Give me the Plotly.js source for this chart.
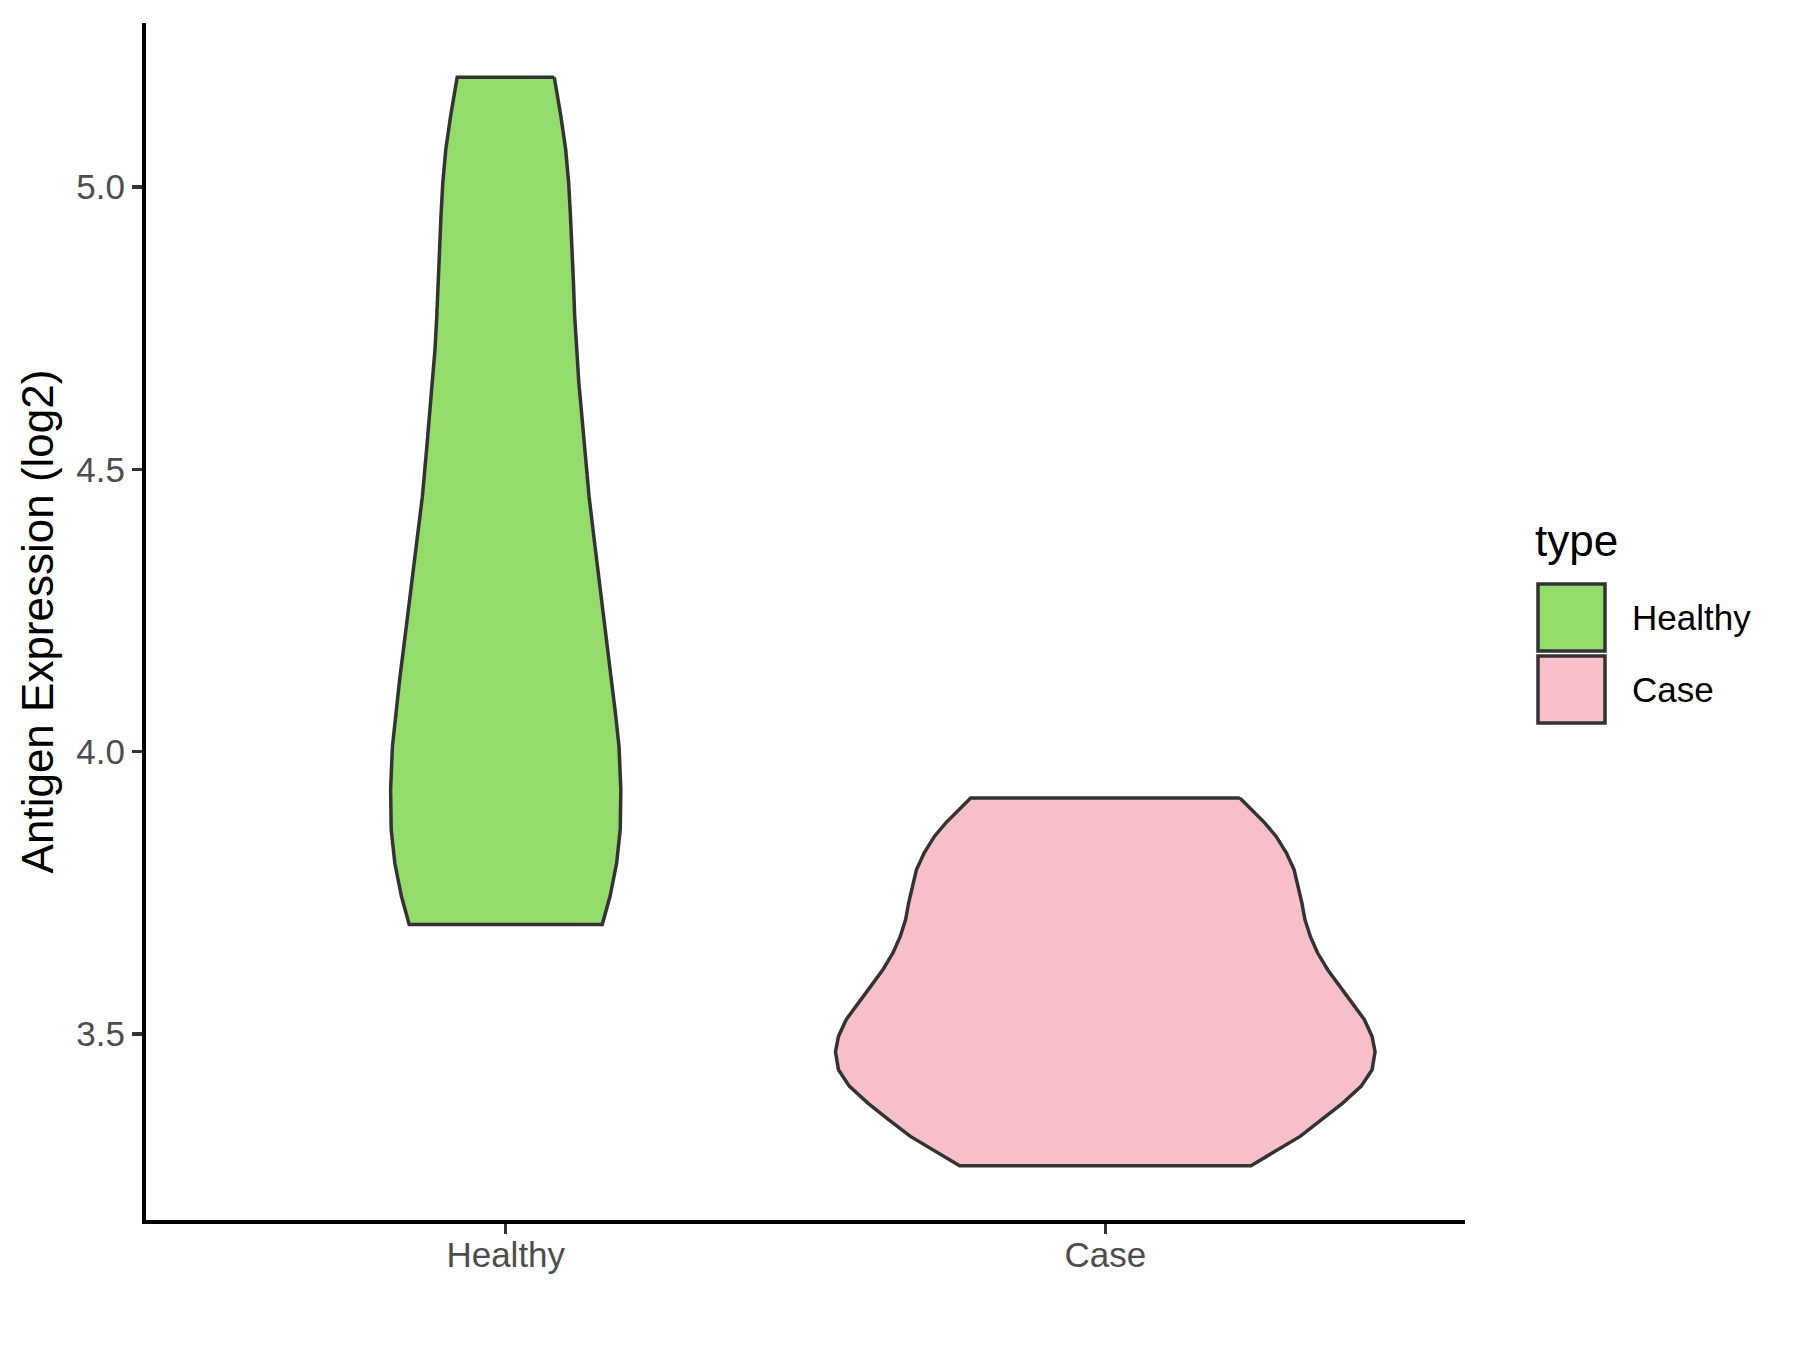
<!DOCTYPE html>
<html>
<head>
<meta charset="utf-8">
<script src="https://cdn.plot.ly/plotly-3.0.1.min.js"></script>
<style>html,body{margin:0;padding:0;background:#fff;}#chart{width:1800px;height:1350px;}</style>
</head>
<body>
<div id="chart"></div>
<script>
// Categories and their fill colours
const categories = ['Healthy', 'Case'];
const fillColors = ['#93DB6A', '#F7BFCA'];

// Violin profiles: y level (log2 expression) and half-width (in category units)
const healthyY = [5.194, 5.154, 5.125, 5.066, 5.007, 4.948, 4.889, 4.830, 4.771, 4.712, 4.653, 4.594, 4.535, 4.452, 4.363, 4.246, 4.127, 4.068, 4.009, 3.933, 3.862, 3.803, 3.744, 3.694];
const healthyHalfWidth = [0.081, 0.088, 0.092, 0.100, 0.105, 0.108, 0.111, 0.113, 0.115, 0.118, 0.122, 0.127, 0.132, 0.139, 0.149, 0.163, 0.177, 0.183, 0.189, 0.192, 0.191, 0.185, 0.174, 0.161];

const caseY = [3.918, 3.897, 3.874, 3.850, 3.821, 3.791, 3.762, 3.732, 3.703, 3.673, 3.644, 3.614, 3.585, 3.555, 3.526, 3.496, 3.469, 3.437, 3.408, 3.378, 3.349, 3.319, 3.290, 3.267];
const caseHalfWidth = [0.2245, 0.245, 0.266, 0.285, 0.302, 0.315, 0.322, 0.328, 0.333, 0.342, 0.354, 0.371, 0.391, 0.411, 0.432, 0.445, 0.450, 0.445, 0.427, 0.396, 0.362, 0.325, 0.279, 0.243];

const yTicks = [3.5, 4.0, 4.5, 5.0];
const yTickText = ['3.5', '4.0', '4.5', '5.0'];

const profiles = [
  {y: healthyY, w: healthyHalfWidth},
  {y: caseY, w: caseHalfWidth}
];

const FONT = 'Liberation Sans, Arial, sans-serif';
const OUTLINE = '#333333';

const traces = profiles.map((p, i) => {
  const pos = i + 1;
  const xs = [], ys = [];
  for (let k = 0; k < p.y.length; k++) { xs.push(pos + p.w[k]); ys.push(p.y[k]); }
  for (let k = p.y.length - 1; k >= 0; k--) { xs.push(pos - p.w[k]); ys.push(p.y[k]); }
  xs.push(xs[0]); ys.push(ys[0]);
  return {
    type: 'scatter', mode: 'lines', x: xs, y: ys,
    fill: 'toself', fillcolor: fillColors[i],
    line: {color: OUTLINE, width: 3.5, shape: 'linear'},
    name: categories[i], showlegend: false, hoverinfo: 'name'
  };
});

// Manual legend (ggplot style big keys)
const plotL = 146, plotR = 1465, plotT = 23, plotB = 1220;
const px = v => (v - plotL) / (plotR - plotL);
const py = v => (plotB - v) / (plotB - plotT);
const keyTops = [584, 656];
const keySize = 67;
const shapes = [], annotations = [];
categories.forEach((c, i) => {
  shapes.push({
    type: 'rect', xref: 'paper', yref: 'paper',
    x0: px(1538), x1: px(1538 + keySize),
    y0: py(keyTops[i] + keySize), y1: py(keyTops[i]),
    fillcolor: fillColors[i], line: {color: OUTLINE, width: 3.5}
  });
  annotations.push({
    xref: 'paper', yref: 'paper', x: px(1630), y: py(keyTops[i] + keySize / 2),
    xanchor: 'left', yanchor: 'middle', showarrow: false, text: c,
    font: {family: FONT, size: 35, color: '#000000'}
  });
});
annotations.push({
  xref: 'paper', yref: 'paper', x: px(1533), y: py(540),
  xanchor: 'left', yanchor: 'middle', showarrow: false, text: 'type',
  font: {family: FONT, size: 44, color: '#000000'}
});

const layout = {
  width: 1800, height: 1350,
  margin: {l: plotL, r: 1800 - plotR, t: plotT, b: 1350 - plotB, pad: 0},
  paper_bgcolor: '#ffffff', plot_bgcolor: '#ffffff',
  showlegend: false,
  font: {family: FONT},
  xaxis: {
    range: [0.4, 2.6], tickmode: 'array', tickvals: [1, 2], ticktext: categories,
    showgrid: false, zeroline: false, showline: true, linecolor: '#000000', linewidth: 4,
    ticks: 'outside', ticklen: 10, tickwidth: 3.5, tickcolor: '#333333',
    ticklabelstandoff: -9,
    tickfont: {family: FONT, size: 35, color: '#4D4D4D'}
  },
  yaxis: {
    range: [3.171, 5.29], tickmode: 'array', tickvals: yTicks, ticktext: yTickText,
    showgrid: false, zeroline: false, showline: true, linecolor: '#000000', linewidth: 4,
    ticks: 'outside', ticklen: 10, tickwidth: 3.5, tickcolor: '#333333',
    tickfont: {family: FONT, size: 35, color: '#4D4D4D'},
    title: {text: 'Antigen Expression (log2)', font: {family: FONT, size: 44, color: '#000000'}, standoff: 10}
  },
  shapes: shapes,
  annotations: annotations
};

Plotly.newPlot('chart', traces, layout, {displayModeBar: false, staticPlot: true});
</script>
</body>
</html>
